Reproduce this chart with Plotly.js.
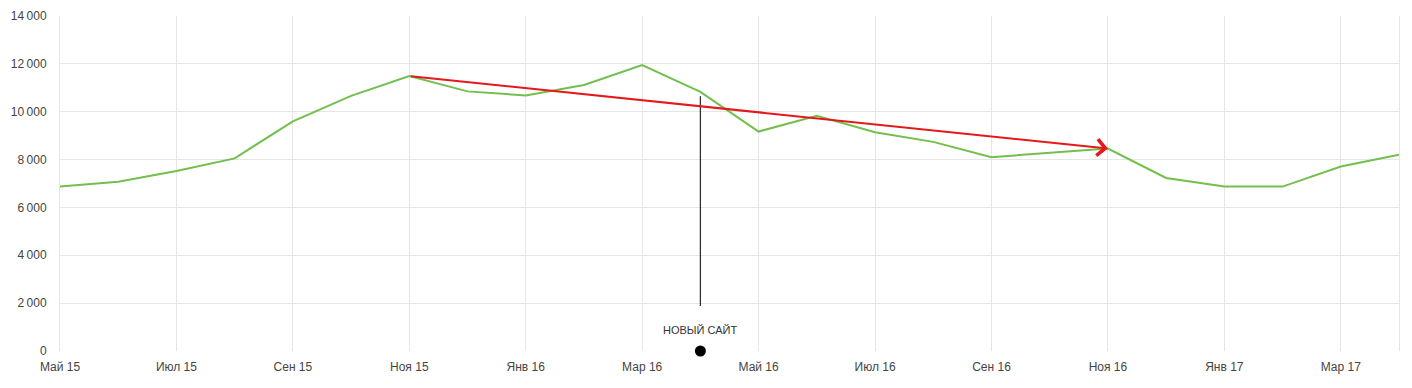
<!DOCTYPE html>
<html>
<head>
<meta charset="utf-8">
<script src="https://cdn.plot.ly/plotly-3.0.1.min.js"></script>
<style>
html,body{margin:0;padding:0;background:#fff;}
#chart{width:1412px;height:388px;}
</style>
</head>
<body>
<div id="chart"></div>
<script>
// Months May 2015 .. Apr 2017
const months = ["Май 15","Июн 15","Июл 15","Авг 15","Сен 15","Окт 15","Ноя 15","Дек 15",
  "Янв 16","Фев 16","Мар 16","Апр 16","Май 16","Июн 16","Июл 16","Авг 16","Сен 16","Окт 16",
  "Ноя 16","Дек 16","Янв 17","Фев 17","Мар 17","Апр 17"];
const visits = [6870,7070,7520,8050,9600,10660,11490,10850,10680,11120,11950,10830,
  9170,9830,9140,8740,8100,8270,8460,7230,6870,6870,7710,8200];

const xTickIdx = [0,2,4,6,8,10,12,14,16,18,20,22];
const xTickText = ["Май 15","Июл 15","Сен 15","Ноя 15","Янв 16","Мар 16","Май 16","Июл 16","Сен 16","Ноя 16","Янв 17","Мар 17"];
const yTickVals = [0,2000,4000,6000,8000,10000,12000,14000];
const yTickText = ["0","2\u2009000","4\u2009000","6\u2009000","8\u2009000","10\u2009000","12\u2009000","14\u2009000"];

// Trend arrow (Ноя 15 -> Ноя 16)
const trendStart = {i: 6, v: 11490};
const trendEnd = {i: 18, v: 8460};
// New site marker (Апр 16)
const newSite = {i: 11, top: 10650, bottom: 1880, label: "НОВЫЙ САЙТ", labelV: 880};

const xs = months.map((m,i)=>i);

const traces = [
  {x: xs, y: visits, type: "scatter", mode: "lines",
   line: {color: "#72bf4e", width: 2}, hoverinfo: "skip"},
  {x: [newSite.i], y: [0], type: "scatter", mode: "markers",
   marker: {color: "#000", size: 11}, cliponaxis: false, hoverinfo: "skip"}
];

const layout = {
  width: 1412, height: 388,
  margin: {l: 60, r: 13, t: 16, b: 37},
  paper_bgcolor: "#fff", plot_bgcolor: "#fff",
  showlegend: false,
  font: {family: "Liberation Sans, Arial, sans-serif", size: 12, color: "#444"},
  xaxis: {
    range: [0, 23], tickvals: xTickIdx, ticktext: xTickText,
    showgrid: true, gridcolor: "#e6e6e6", gridwidth: 1,
    zeroline: false, showline: false, ticks: "", ticklabelstandoff: 7, fixedrange: true,
    tickfont: {size: 12, color: "#444"}
  },
  yaxis: {
    range: [0, 14000], tickvals: yTickVals, ticktext: yTickText,
    showgrid: true, gridcolor: "#e6e6e6", gridwidth: 1,
    zeroline: false, showline: true, mirror: true, linecolor: "#e6e6e6", linewidth: 1,
    ticks: "", ticklabelstandoff: 10, fixedrange: true,
    tickfont: {size: 12, color: "#444"}
  },
  shapes: [
    {type: "line", xref: "x", yref: "y", x0: newSite.i, x1: newSite.i,
     y0: newSite.bottom, y1: newSite.top, line: {color: "#333", width: 1.3}}
  ],
  annotations: [
    {x: trendEnd.i, y: trendEnd.v, ax: trendStart.i, ay: trendStart.v,
     xref: "x", yref: "y", axref: "x", ayref: "y", text: "", showarrow: true,
     arrowhead: 4, arrowsize: 1.6, arrowwidth: 2, arrowcolor: "#e3191b", standoff: 0},
    {x: newSite.i, y: newSite.labelV, xref: "x", yref: "y", text: newSite.label,
     showarrow: false, font: {size: 11, color: "#333"}}
  ]
};

Plotly.newPlot("chart", traces, layout, {displayModeBar: false, staticPlot: true});
</script>
</body>
</html>
